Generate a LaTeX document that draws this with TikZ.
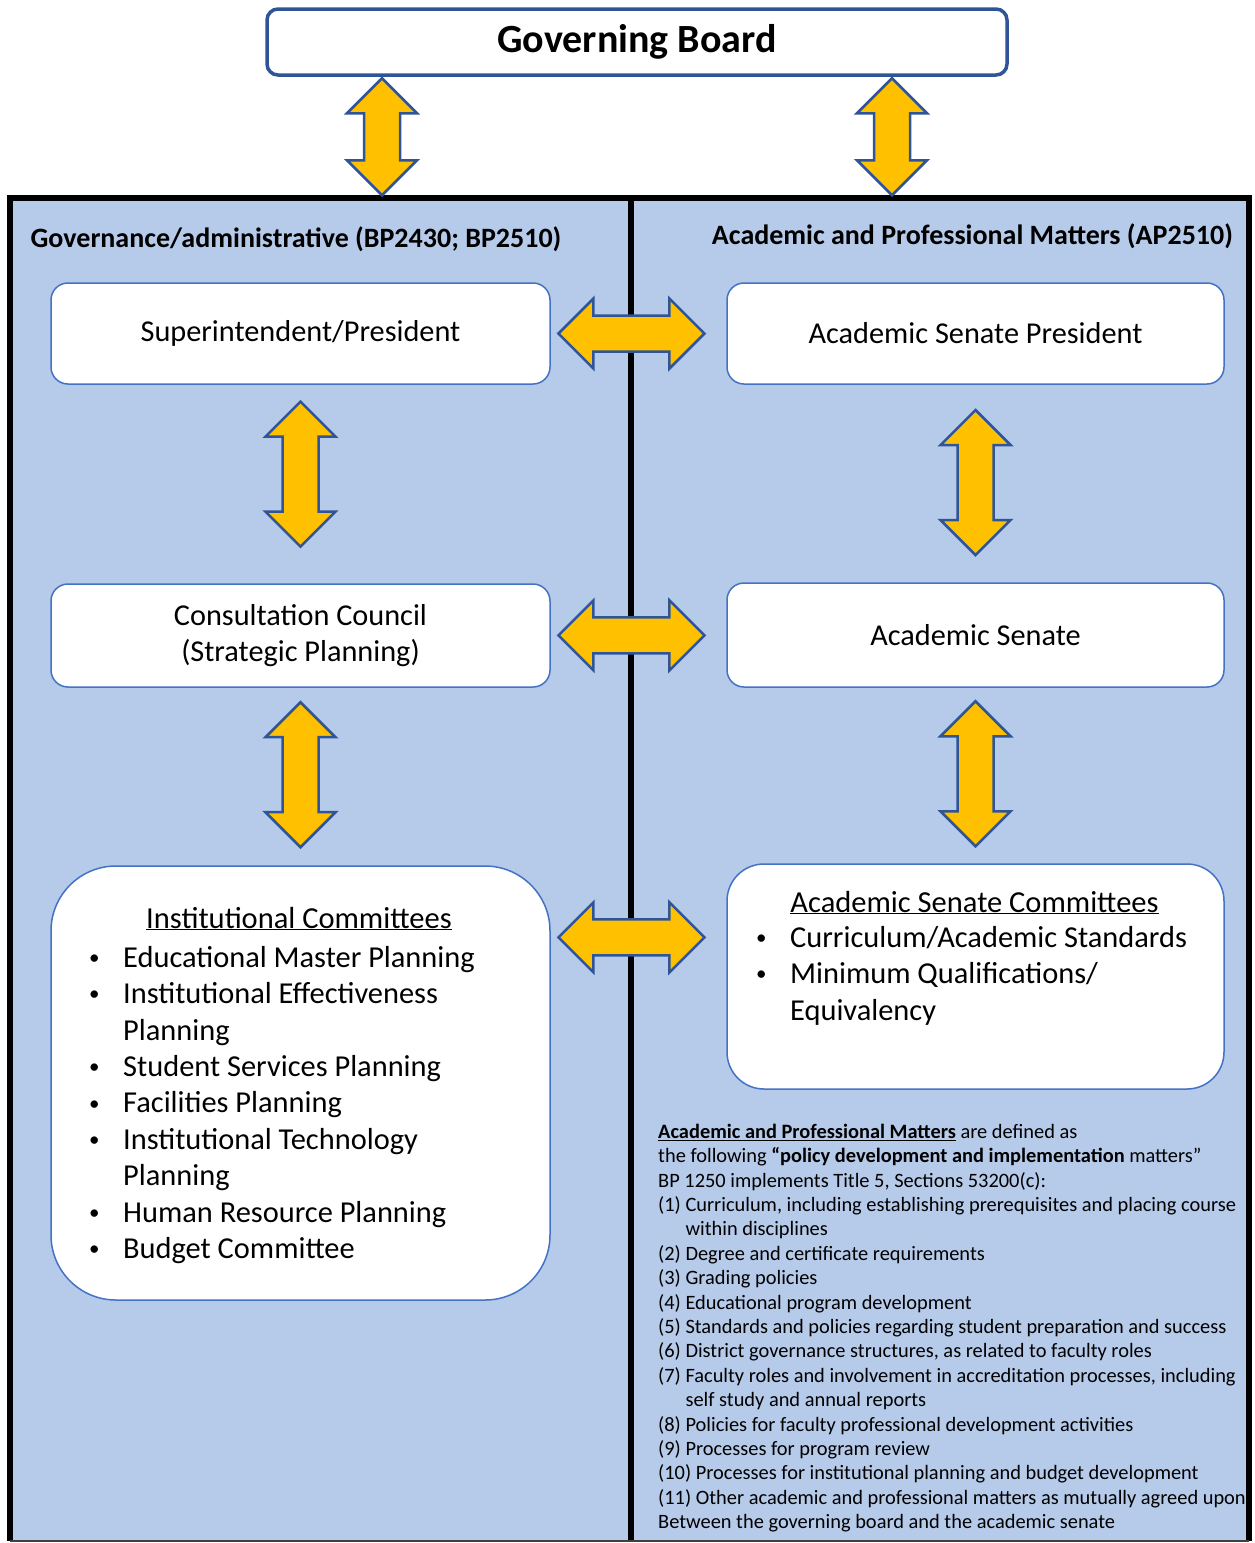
\documentclass[tikz,border=0pt]{standalone}
\usepackage{fontspec}
\setmainfont{Carlito}
\usetikzlibrary{calc}
\definecolor{panelblue}{HTML}{B6CAE9}
\definecolor{edgeblue}{HTML}{4472C4}
\definecolor{darkblue}{HTML}{2F5597}
\definecolor{arrowgold}{HTML}{FFC000}
\newcommand{\firstrule}[1]{\rule{0pt}{#1}}
\newcommand{\listbullet}{\makebox[36pt][l]{\hspace{2pt}\raisebox{2.8pt}{\fontsize{21}{21}\selectfont•}}}
\newcommand{\listindent}{\hspace*{36pt}}

\begin{document}
\begin{tikzpicture}[x=1pt,y=-1pt,
    orgbox/.style={draw=edgeblue, fill=white, line width=1.5pt, inner sep=0pt, align=center, font={\fontsize{30.3}{36.4}\selectfont}},
    headtext/.style={anchor=base, inner sep=0pt, font={\fontsize{28}{34}\selectfont\bfseries}},
    listtext/.style={anchor=north west, inner sep=0pt, align=left, font={\fontsize{30.4}{36.4}\selectfont}},
    blockarrow/.style={draw=darkblue, fill=arrowgold, line width=2.5pt},
    frame/.style={line width=5.5pt},
    pics/dblarrow/.style={code={
        \draw[blockarrow] (-#1/2,0) -- (-#1/2+35,-35) -- (-#1/2+35,-18) -- (#1/2-35,-18) -- (#1/2-35,-35) -- (#1/2,0)
            -- (#1/2-35,35) -- (#1/2-35,18) -- (-#1/2+35,18) -- (-#1/2+35,35) -- cycle;
    }}]

    \useasboundingbox (0,0) rectangle (1254,1543);

    % Panels
    \fill[panelblue] (10,198) rectangle (1249,1541);
    \draw[frame] (10,1541) -- (10,198) -- (1249,198) -- (1249,1541);
    \draw[frame] (631,198) -- (631,1541);
    \draw[line width=1.5pt, black!75] (10,1541) -- (1249,1541);

    % Governing Board
    \node[orgbox, draw=darkblue, line width=3.5pt, rounded corners=11pt, minimum width=740pt, minimum height=66pt,
        font={\fontsize{40}{48}\selectfont\bfseries}] (gov) at (637,42) {Governing Board};

    % Column headers
    \node[headtext] (lhead) at (296,247) {Governance/administrative (BP2430; BP2510)};
    \node[headtext] (rhead) at (972.5,244) {Academic and Professional Matters (AP2510)};

    % Left column
    \node[orgbox, rounded corners=17pt, minimum width=499pt, minimum height=101pt] (sup) at (300.5,333.5) {Superintendent/President};
    \node[orgbox, rounded corners=17pt, minimum width=499pt, minimum height=103pt] (cons) at (300.5,635.5) {Consultation Council\\(Strategic Planning)};
    \node[orgbox, rounded corners=65pt, minimum width=499pt, minimum height=434pt] (inst) at (300.5,1083) {};

    % Right column
    \node[orgbox, rounded corners=17pt, minimum width=497pt, minimum height=101pt] (asp) at (975.5,333.5) {Academic Senate President};
    \node[orgbox, rounded corners=17pt, minimum width=497pt, minimum height=104pt] (asen) at (975.5,635) {Academic Senate};
    \node[orgbox, rounded corners=37pt, minimum width=497pt, minimum height=225pt] (ascom) at (975.5,976.5) {};

    % Committees
    \node[headtext, font={\fontsize{30.5}{36.4}\selectfont}] (insthd) at (299,928) {\underline{Institutional Committees}};
    \node[listtext] (instlist) at (87,941) {\firstrule{26pt}\listbullet Educational Master Planning\\
        \listbullet Institutional Effectiveness\\
        \listindent Planning\\
        \listbullet Student Services Planning\\
        \listbullet Facilities Planning\\
        \listbullet Institutional Technology\\
        \listindent Planning\\
        \listbullet Human Resource Planning\\
        \listbullet Budget Committee};

    \node[headtext, font={\fontsize{30.5}{36.4}\selectfont}] (ascomhd) at (974.5,912) {\underline{Academic Senate Committees}};
    \node[listtext] (ascomlist) at (754,921) {\firstrule{26pt}\listbullet Curriculum/Academic Standards\\
        \listbullet Minimum Qualifications/\\
        \listindent Equivalency};

    % Definition of matters
    \node[anchor=north west, inner sep=0pt, align=left, font={\fontsize{20.4}{24.4}\selectfont}] (apmtext) at (658,1120)
        {\firstrule{18pt}\textbf{\underline{Academic and Professional Matters}} are defined as\\
        the following \textbf{“policy development and implementation} matters”\\
        BP 1250 implements Title 5, Sections 53200(c):\\
        (1) Curriculum, including establishing prerequisites and placing course\\
        \phantom{(1) }within disciplines\\
        (2) Degree and certificate requirements\\
        (3) Grading policies\\
        (4) Educational program development\\
        (5) Standards and policies regarding student preparation and success\\
        (6) District governance structures, as related to faculty roles\\
        (7) Faculty roles and involvement in accreditation processes, including\\
        \phantom{(7) }self study and annual reports\\
        (8) Policies for faculty professional development activities\\
        (9) Processes for program review\\
        (10) Processes for institutional planning and budget development\\
        (11) Other academic and professional matters as mutually agreed upon\\
        Between the governing board and the academic senate};

    % Arrows
    \pic[rotate=90] at ($(gov.south)+(-255,60)$) {dblarrow=117};
    \pic[rotate=90] at ($(gov.south)+(255,60)$) {dblarrow=117};

    \pic[rotate=90] at ($(sup.south)!0.45!(cons.north)$) {dblarrow=145};
    \pic[rotate=90] at ($(cons.south)!0.49!(inst.north)$) {dblarrow=145};
    \pic[rotate=90] at ($(asp.south)!0.495!(asen.north)$) {dblarrow=145};
    \pic[rotate=90] at ($(asen.south)!0.49!(ascom.north)$) {dblarrow=145};

    \pic at ($(sup.east)!0.46!(asp.west)$) {dblarrow=146};
    \pic at ($(cons.east)!0.46!(asen.west)$) {dblarrow=146};
    \pic at ($(inst.north east)!0.46!(ascom.north west)+(0,73)$) {dblarrow=146};

\end{tikzpicture}
\end{document}
